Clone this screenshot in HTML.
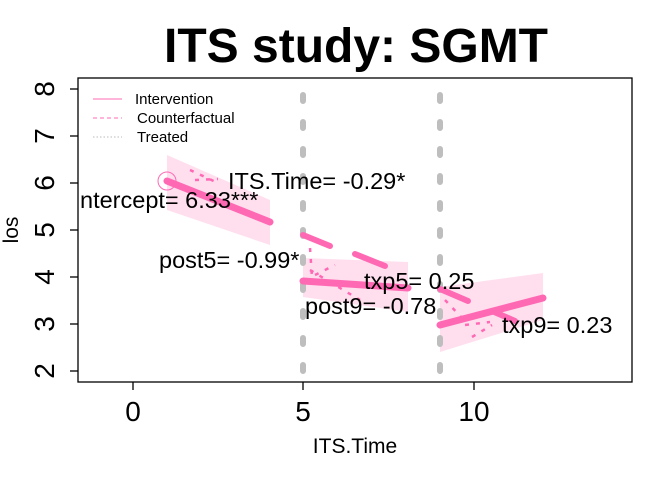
<!DOCTYPE html>
<html><head><meta charset="utf-8"><style>body{margin:0;background:#fff}svg{display:block}</style></head><body>
<svg width="672" height="480" viewBox="0 0 672 480" xmlns="http://www.w3.org/2000/svg" font-family="Liberation Sans, Arial, sans-serif">
<rect width="672" height="480" fill="#fff"/>
<text x="356" y="62" text-anchor="middle" font-size="48" font-weight="bold">ITS study: SGMT</text>
<polygon points="167,155 270,200 270,245 167,210" fill="#ffdfee"/>
<polygon points="303,258 408,262 408,312 303,297" fill="#ffdfee"/>
<polygon points="440,287 543,273 543,320 440,352" fill="#ffdfee"/>
<g stroke="#bebebe" stroke-width="6" stroke-linecap="round" stroke-dasharray="6,21">
<line x1="303" y1="95" x2="303" y2="382"/>
<line x1="440" y1="95" x2="440" y2="382"/>
</g>
<g stroke="#ff69b4" stroke-width="7" stroke-linecap="round">
<line x1="167" y1="181" x2="270" y2="222"/>
<line x1="303" y1="281" x2="408" y2="288"/>
<line x1="440" y1="325" x2="543" y2="298"/>
</g>
<g stroke="#ff69b4" stroke-width="6" stroke-linecap="round">
<line x1="303" y1="235" x2="330" y2="246"/>
<line x1="355" y1="254" x2="385" y2="266"/>
<line x1="440" y1="289" x2="468" y2="301"/>
<line x1="492" y1="311" x2="515" y2="321"/>
</g>
<g stroke="#ff69b4" stroke-width="2.5" stroke-dasharray="4,7">
<line x1="190" y1="170" x2="218" y2="183"/>
<line x1="195" y1="180" x2="218" y2="179"/>
<line x1="310" y1="248" x2="312" y2="278"/>
<line x1="310" y1="270" x2="360" y2="300"/>
<line x1="315" y1="275" x2="335" y2="265"/>
<line x1="445" y1="300" x2="462" y2="318"/>
<line x1="465" y1="325" x2="490" y2="322"/>
<line x1="472" y1="337" x2="492" y2="325"/>
</g>
<circle cx="167" cy="181" r="9" fill="none" stroke="#ff69b4" stroke-width="1"/>
<g font-size="23.5" fill="#000">
<text x="228" y="189">ITS.Time= -0.29*</text>
<text x="80" y="208">ntercept= 6.33***</text>
<text x="159" y="268">post5= -0.99*</text>
<text x="364" y="289">txp5= 0.25</text>
<text x="305" y="314">post9= -0.78</text>
<text x="502" y="333">txp9= 0.23</text>
</g>
<g stroke="#ff69b4" stroke-width="1">
<line x1="93" y1="99" x2="122" y2="99"/>
<line x1="93" y1="118" x2="122" y2="118" stroke-dasharray="4,3"/>
<line x1="93" y1="137" x2="122" y2="137" stroke="#bbb" stroke-dasharray="1.5,2"/>
</g>
<g font-size="15"><text x="135" y="104">Intervention</text><text x="137" y="123">Counterfactual</text><text x="137" y="142">Treated</text></g>
<rect x="78" y="78" width="554" height="304" fill="none" stroke="#000" stroke-width="1.3"/>
<g stroke="#000" stroke-width="1.3">
<line x1="133" y1="382" x2="133" y2="390"/><line x1="303" y1="382" x2="303" y2="390"/><line x1="474" y1="382" x2="474" y2="390"/>
<line x1="70" y1="89" x2="78" y2="89"/><line x1="70" y1="136" x2="78" y2="136"/><line x1="70" y1="183" x2="78" y2="183"/><line x1="70" y1="230" x2="78" y2="230"/><line x1="70" y1="277" x2="78" y2="277"/><line x1="70" y1="324" x2="78" y2="324"/><line x1="70" y1="371" x2="78" y2="371"/>
</g>
<g font-size="28" text-anchor="middle">
<text x="133" y="421">0</text><text x="303" y="421">5</text><text x="474" y="421">10</text>
<text transform="translate(54,89) rotate(-90)">8</text>
<text transform="translate(54,136) rotate(-90)">7</text>
<text transform="translate(54,183) rotate(-90)">6</text>
<text transform="translate(54,230) rotate(-90)">5</text>
<text transform="translate(54,277) rotate(-90)">4</text>
<text transform="translate(54,324) rotate(-90)">3</text>
<text transform="translate(54,371) rotate(-90)">2</text>
</g>
<text x="355" y="453" font-size="21" text-anchor="middle">ITS.Time</text>
<text transform="translate(18,230) rotate(-90)" font-size="21" text-anchor="middle">los</text>
</svg>
</body></html>
